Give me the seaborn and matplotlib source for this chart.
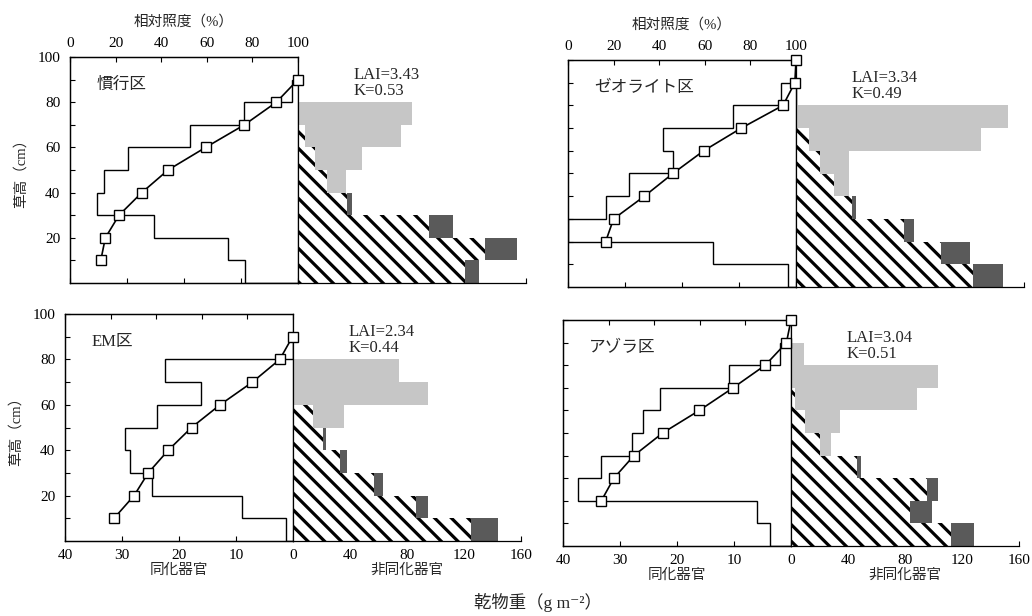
## Productive structure diagrams of four rice plots
## left half: leaf dry weight per layer + relative light intensity
## right half: stems / dead leaves / ears dry weight per layer

import numpy as np
import matplotlib
matplotlib.use("Agg")
import matplotlib.pyplot as plt
import seaborn as sns

## layers of the stratified clipping (cm)
layer_edges = [0, 10, 20, 30, 40, 50, 60, 70, 80, 90]
layer_mid = [5, 15, 25, 35, 45, 55, 65, 75, 85]

## plot names, LAI and extinction coefficient K
plot_names = ["慣行区", "ゼオライト区", "EM区", "アゾラ区"]
lai_values = [3.43, 3.34, 2.34, 3.04]
k_values = [0.53, 0.49, 0.44, 0.51]

## relative light intensity (%) measured at each height (cm)
light_h_kanko = [10, 20, 30, 40, 50, 60, 70, 80, 90]
light_kanko = [13.5, 15.5, 21.5, 31.5, 43, 59.5, 76.5, 90.5, 100]
light_h_zeo = [20, 30, 40, 50, 60, 70, 80, 90, 100]
light_zeo = [16.5, 20, 33.5, 46, 59.5, 76, 94.3, 99.5, 100]
light_h_em = [10, 20, 30, 40, 50, 60, 70, 80, 90]
light_em = [21.5, 30.3, 36.5, 45.3, 55.5, 68, 82.2, 94.2, 99.8]
light_h_azo = [20, 30, 40, 50, 60, 70, 80, 90, 100]
light_azo = [16.8, 22.3, 31.1, 43.7, 59.8, 74.6, 88.7, 98, 100]

## assimilating organs (leaf blades), g m-2 per layer, bottom to top
leaf_kanko = [9.3, 12.2, 25.2, 35.2, 34.0, 29.9, 18.9, 9.4, 1.0]
leaf_zeo = [1.4, 14.6, 40.0, 33.3, 29.3, 21.6, 23.3, 11.0, 2.6]
leaf_em = [1.3, 9.0, 24.8, 28.6, 29.4, 23.8, 16.1, 22.5, 0]
leaf_azo = [3.6, 5.9, 37.3, 33.3, 27.9, 26.0, 23.0, 10.8, 1.9]

## non-assimilating organs, g m-2 per layer: stems, dead leaves, ears
stem_kanko = [117, 131, 92, 34.6, 20, 12, 5, 1, 0]
dead_kanko = [10, 23, 17, 3.5, 0, 0, 0, 0, 0]
ear_kanko = [0, 0, 0, 0, 14, 33, 67.6, 79, 0]

stem_zeo = [124.5, 102, 76, 39, 27, 17, 9, 1, 0]
dead_zeo = [21, 20, 7, 3, 0, 0, 0, 0, 0]
ear_zeo = [0, 0, 0, 0, 10, 20, 121, 148, 1.5]

stem_em = [125, 86, 57, 33, 21, 14, 1, 0, 0]
dead_em = [19, 8.5, 6.5, 4.7, 2.5, 0, 0, 0, 0]
ear_em = [0, 0, 0, 0, 0, 21.6, 94, 74.4, 0]

stem_azo = [112, 83.6, 95.4, 46, 20, 10, 3, 0, 0]
dead_azo = [16.5, 15, 7.6, 2.8, 0, 0, 0, 0, 0]
ear_azo = [0, 0, 0, 0, 8.3, 24.2, 85.3, 103, 9.4]

panels = [
    (light_h_kanko, light_kanko, leaf_kanko, stem_kanko, dead_kanko, ear_kanko),
    (light_h_zeo, light_zeo, leaf_zeo, stem_zeo, dead_zeo, ear_zeo),
    (light_h_em, light_em, leaf_em, stem_em, dead_em, ear_em),
    (light_h_azo, light_azo, leaf_azo, stem_azo, dead_azo, ear_azo),
]

## style
sns.set_theme(style="ticks", rc={
    "axes.edgecolor": "black",
    "axes.linewidth": 0.9,
    "xtick.color": "black",
    "ytick.color": "black",
    "xtick.direction": "in",
    "ytick.direction": "in",
    "hatch.linewidth": 2.3,
})
plt.rcParams["font.family"] = ["Liberation Serif", "Noto Sans CJK JP", "DejaVu Sans"]

fig_w, fig_h = 1032, 616
fig = plt.figure(figsize=(fig_w / 100, fig_h / 100), dpi=100)

## pixel frame of each panel: left x, top y, bottom y
panel_px = [(70, 57, 283), (568, 60, 287), (65, 314, 541), (563, 320, 546)]
half_w = 228
tick_fs = 11

for i, (lh, lt, leaf, stem, dead, ear) in enumerate(panels):
    row, col = i // 2, i % 2
    x0, top, bot = panel_px[i]
    h = bot - top
    ax_left = fig.add_axes([x0 / fig_w, 1 - bot / fig_h, half_w / fig_w, h / fig_h])
    ax_right = fig.add_axes([(x0 + half_w) / fig_w, 1 - bot / fig_h, half_w / fig_w, h / fig_h])

    ## leaf weight step profile
    ax_left.stairs(leaf, layer_edges, orientation="horizontal", baseline=0,
                   color="black", linewidth=1.0)
    ax_left.set_xlim(40, 0)
    ax_left.set_ylim(0, 100)
    ax_left.set_xticks([40, 30, 20, 10, 0])
    ax_left.set_yticks([20, 40, 60, 80, 100])
    ax_left.set_yticks([10, 30, 50, 70, 90], minor=True)
    ax_left.tick_params(which="both", length=3.5, width=0.8, labelsize=tick_fs)
    ax_left.tick_params(axis="y", pad=7)
    ax_left.tick_params(axis="x", pad=6)
    if row == 0:
        ax_left.tick_params(axis="x", labelbottom=False)
    else:
        ax_left.set_xlabel("同化器官", fontsize=10.5, labelpad=1)
    if col == 1:
        ax_left.tick_params(axis="y", which="both", labelleft=False)
    else:
        ax_left.set_ylabel("草高（cm）", fontsize=10.5, labelpad=7)
    ax_left.text(0.115, 0.875, plot_names[i], transform=ax_left.transAxes,
                 fontsize=12, va="center", ha="left")

    ## relative light intensity on the top axis
    ax_light = ax_left.twiny()
    sns.lineplot(x=lt, y=lh, ax=ax_light, sort=False, estimator=None,
                 color="black", linewidth=1.2, marker="s", markersize=7,
                 markerfacecolor="white", markeredgecolor="black",
                 markeredgewidth=1.0, clip_on=False, zorder=5)
    ax_light.set_xlim(0, 100)
    ax_light.set_ylim(0, 100)
    ax_light.set_xticks([0, 20, 40, 60, 80, 100])
    ax_light.tick_params(axis="x", length=3.5, width=0.8, labelsize=tick_fs, pad=5)
    ax_light.set_ylabel("")
    if row == 0:
        ax_light.set_xlabel("相対照度（%）", fontsize=10.5, labelpad=8)
    else:
        ax_light.tick_params(axis="x", labeltop=False)
        ax_light.set_xlabel("")

    ## non-assimilating organs, stacked
    base_dead = np.array(stem)
    base_ear = base_dead + np.array(dead)
    ax_right.barh(layer_mid, stem, height=10, left=0, facecolor="white",
                  edgecolor="black", linewidth=0, hatch="\\\\")
    ax_right.barh(layer_mid, dead, height=10, left=base_dead,
                  color="#5a5a5a", linewidth=0)
    ax_right.barh(layer_mid, ear, height=10, left=base_ear,
                  color="#c6c6c6", linewidth=0)
    ax_right.set_xlim(0, 160)
    ax_right.set_ylim(0, 100)
    for side in ["top", "right", "left"]:
        ax_right.spines[side].set_visible(False)
    ax_right.set_yticks([])
    ax_right.set_xticks([40, 80, 120, 160])
    ax_right.tick_params(axis="x", length=3.5, width=0.8, labelsize=tick_fs, pad=6)
    if row == 0:
        ax_right.tick_params(axis="x", labelbottom=False)
    else:
        ax_right.set_xlabel("非同化器官", fontsize=10.5, labelpad=1)
    ax_right.text(39, 88.5, "LAI=%.2f\nK=%.2f" % (lai_values[i], k_values[i]),
                  fontsize=12, va="center", ha="left", linespacing=1.0)

fig.text(538 / fig_w, 1 - 603 / fig_h, "乾物重（g m⁻²）", ha="center", va="center",
         fontsize=12.5)

fig.savefig("out.png", dpi=100)
